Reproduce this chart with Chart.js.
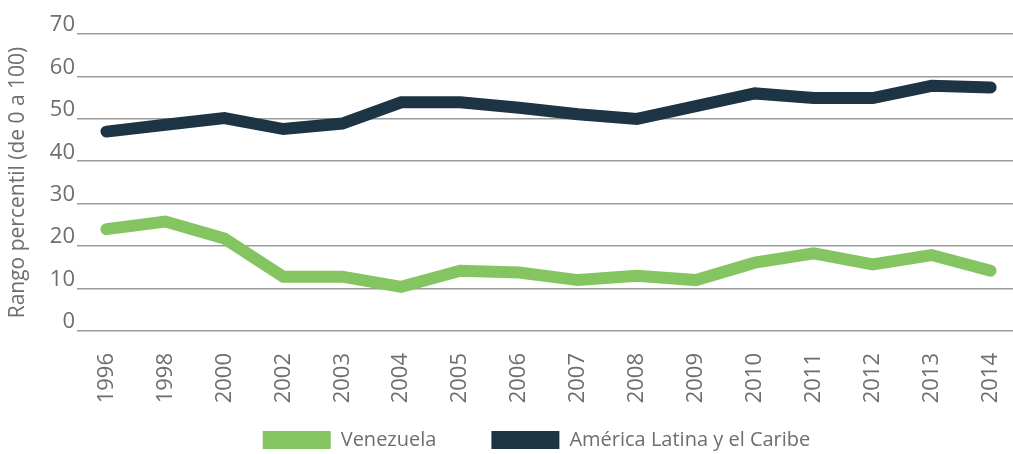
<!DOCTYPE html>
<html>
<head>
<meta charset="utf-8">
<script src="https://cdn.jsdelivr.net/npm/chart.js@4"></script>
<style>
  html, body { margin: 0; padding: 0; background: #fff; overflow: hidden; }
  #wrap { width: 1039px; height: 454px; }
</style>
</head>
<body>
<div id="wrap"><canvas id="c" width="1039" height="454"></canvas></div>
<script>
const years = ['1996','1998','2000','2002','2003','2004','2005','2006','2007','2008','2009','2010','2011','2012','2013','2014'];
const venezuela = [24.0, 25.8, 21.8, 12.8, 12.8, 10.4, 14.2, 13.8, 12.0, 13.0, 12.0, 16.1, 18.3, 15.7, 17.9, 14.2];
const latam = [47.0, 48.6, 50.2, 47.6, 48.9, 53.9, 53.9, 52.6, 51.1, 50.0, 53.0, 56.0, 54.9, 54.9, 57.8, 57.4];
const seriesNames = ['Venezuela', 'América Latina y el Caribe'];
const yTitle = 'Rango percentil (de 0 a 100)';

const textColor = '#6d6e71';
const fontFamily = '"Open Sans", "DejaVu Sans", sans-serif';

const legendLayout = {
  id: 'legendLayout',
  beforeLayout(chart) {
    const lg = chart.legend;
    if (lg && !lg.__patched) {
      const orig = lg.fit;
      lg.fit = function () { orig.call(this); this.height = 36; };
      lg.__patched = true;
    }
  },
  afterLayout(chart) {
    const lg = chart.legend;
    if (lg) {
      lg.left += 17; lg.right += 17;
      lg.top = 375; lg.bottom = 470; lg.height = lg.bottom - lg.top;
    }
  }
};

const defaultLabels = Chart.defaults.plugins.legend.labels.generateLabels;

new Chart(document.getElementById('c'), {
  type: 'line',
  data: {
    labels: years,
    datasets: [
      { label: seriesNames[0], data: venezuela, borderColor: '#84c562', backgroundColor: '#84c562',
        borderWidth: 12, pointRadius: 0, tension: 0, borderCapStyle: 'round', borderJoinStyle: 'miter' },
      { label: seriesNames[1], data: latam, borderColor: '#1c3444', backgroundColor: '#1c3444',
        borderWidth: 12, pointRadius: 0, tension: 0, borderCapStyle: 'round', borderJoinStyle: 'miter' }
    ]
  },
  plugins: [legendLayout],
  options: {
    responsive: false,
    animation: false,
    layout: { padding: { top: 34, left: 0, right: 0, bottom: -6 } },
    plugins: {
      tooltip: { enabled: false },
      legend: {
        position: 'bottom',
        labels: {
          boxWidth: 68, boxHeight: 18, padding: 55,
          color: textColor,
          font: { family: fontFamily, size: 20 },
          generateLabels: (chart) => defaultLabels(chart).map(it => Object.assign(it, { lineWidth: 0 }))
        }
      }
    },
    scales: {
      x: {
        offset: true,
        grid: { display: false, drawTicks: false },
        border: { display: false },
        ticks: {
          minRotation: 90, maxRotation: 90, padding: 22,
          color: textColor, font: { family: fontFamily, size: 22 }
        },
        afterFit: (s) => { s.height = 93; }
      },
      y: {
        min: 0, max: 70,
        grid: { color: '#9b9b9b', lineWidth: 1.6, drawTicks: false },
        border: { display: false },
        ticks: {
          stepSize: 10, padding: 2, labelOffset: -9,
          color: textColor, font: { family: fontFamily, size: 22 }
        },
        title: {
          display: true, text: yTitle, color: textColor,
          font: { family: fontFamily, size: 21 }, padding: { top: 5, bottom: 0 }
        },
        afterFit: (s) => { s.width = 77; }
      }
    }
  }
});
</script>
</body>
</html>
